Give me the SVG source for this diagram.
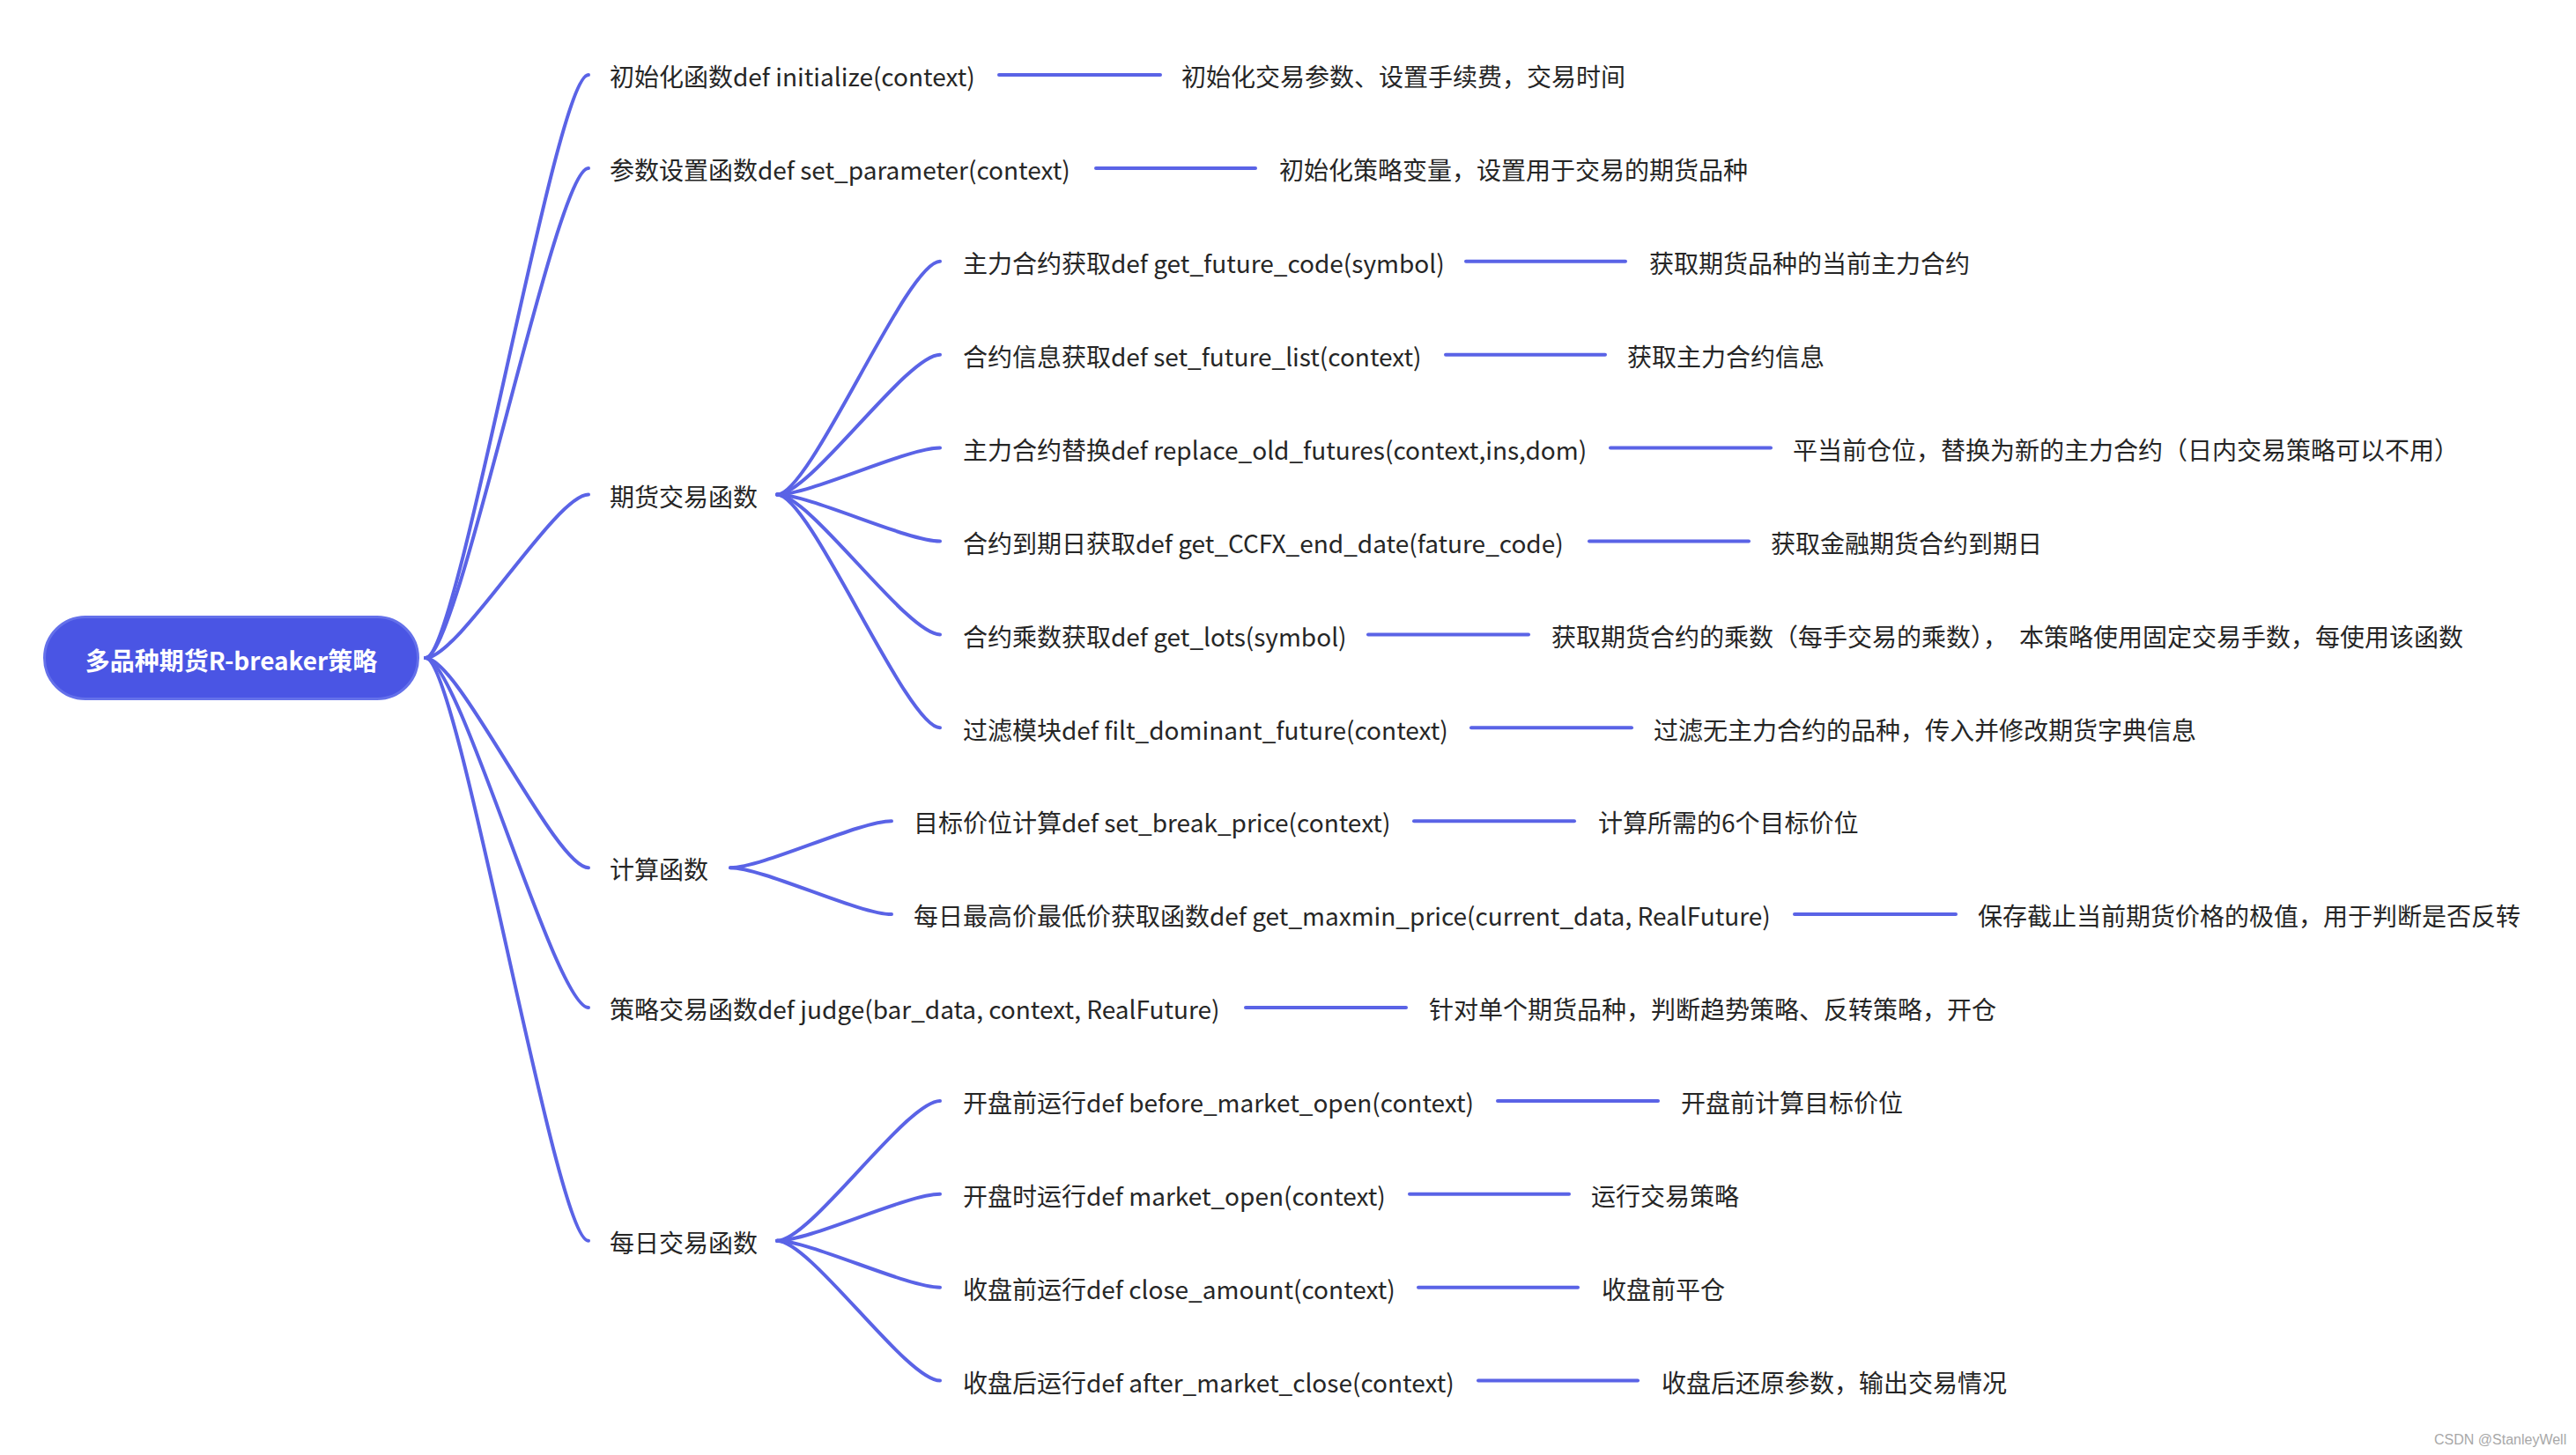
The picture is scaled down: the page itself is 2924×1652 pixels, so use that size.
<svg xmlns="http://www.w3.org/2000/svg" width="2924" height="1652" viewBox="0 0 2924 1652">
<style>
text{font-family:"Noto Sans CJK SC","Noto Sans",sans-serif;font-size:28px;fill:#262626;dominant-baseline:central}
.root text{fill:#ffffff;font-weight:bold;text-anchor:middle}
.conn path,.conn line{fill:none;stroke:#5a63e6;stroke-width:4;stroke-linecap:round}
.wm{font-family:"Liberation Sans",Arial,sans-serif;font-size:16px;fill:#a8a8a8;dominant-baseline:auto}
</style>
<rect width="2924" height="1652" fill="#ffffff"/>
<g class="conn" id="connectors">
<path d="M483,747 C521,747 630,85 668,85"/>
<path d="M483,747 C521,747 630,190.9 668,190.9"/>
<path d="M483,747 C521,747 630,561.6 668,561.6"/>
<path d="M483,747 C521,747 630,985.2 668,985.2"/>
<path d="M483,747 C521,747 630,1144 668,1144"/>
<path d="M483,747 C521,747 630,1408.8 668,1408.8"/>
<path d="M882,561.6 C920,561.6 1029,296.8 1067,296.8"/>
<path d="M882,561.6 C920,561.6 1029,402.7 1067,402.7"/>
<path d="M882,561.6 C920,561.6 1029,508.6 1067,508.6"/>
<path d="M882,561.6 C920,561.6 1029,614.5 1067,614.5"/>
<path d="M882,561.6 C920,561.6 1029,720.4 1067,720.4"/>
<path d="M882,561.6 C920,561.6 1029,826.3 1067,826.3"/>
<path d="M829,985.2 C866,985.2 975,932.2 1012,932.2"/>
<path d="M829,985.2 C866,985.2 975,1038.1 1012,1038.1"/>
<path d="M882,1408.8 C920,1408.8 1029,1249.9 1067,1249.9"/>
<path d="M882,1408.8 C920,1408.8 1029,1355.8 1067,1355.8"/>
<path d="M882,1408.8 C920,1408.8 1029,1461.7 1067,1461.7"/>
<path d="M882,1408.8 C920,1408.8 1029,1567.6 1067,1567.6"/>
<line x1="1134" y1="85" x2="1317" y2="85"/>
<line x1="1244" y1="190.9" x2="1425" y2="190.9"/>
<line x1="1664" y1="296.8" x2="1845" y2="296.8"/>
<line x1="1641" y1="402.7" x2="1822" y2="402.7"/>
<line x1="1828" y1="508.6" x2="2010" y2="508.6"/>
<line x1="1804" y1="614.5" x2="1985" y2="614.5"/>
<line x1="1553" y1="720.4" x2="1735" y2="720.4"/>
<line x1="1670" y1="826.3" x2="1852" y2="826.3"/>
<line x1="1605" y1="932.2" x2="1787" y2="932.2"/>
<line x1="2037" y1="1038.1" x2="2220" y2="1038.1"/>
<line x1="1414" y1="1144" x2="1596" y2="1144"/>
<line x1="1700" y1="1249.9" x2="1882" y2="1249.9"/>
<line x1="1600" y1="1355.8" x2="1781" y2="1355.8"/>
<line x1="1610" y1="1461.7" x2="1791" y2="1461.7"/>
<line x1="1678" y1="1567.6" x2="1859" y2="1567.6"/>
</g>
<g class="root" id="root">
<rect x="50.5" y="700.5" width="424" height="93" rx="46.5" fill="#4a55e4" stroke="#6470ea" stroke-width="3"/>
<text x="262.5" y="749">多品种期货R-breaker策略</text>
</g>
<g id="n-init"><text x="692" y="86">初始化函数def initialize(context)</text></g>
<g id="n-param"><text x="692" y="192">参数设置函数def set_parameter(context)</text></g>
<g id="n-futures"><text x="692" y="563">期货交易函数</text></g>
<g id="n-calc"><text x="692" y="986">计算函数</text></g>
<g id="n-judge"><text x="692" y="1145">策略交易函数def judge(bar_data, context, RealFuture)</text></g>
<g id="n-daily"><text x="692" y="1410">每日交易函数</text></g>
<g id="n-code"><text x="1093" y="298">主力合约获取def get_future_code(symbol)</text></g>
<g id="n-list"><text x="1093" y="404">合约信息获取def set_future_list(context)</text></g>
<g id="n-replace"><text x="1093" y="510">主力合约替换def replace_old_futures(context,ins,dom)</text></g>
<g id="n-enddate"><text x="1093" y="616">合约到期日获取def get_CCFX_end_date(fature_code)</text></g>
<g id="n-lots"><text x="1093" y="722">合约乘数获取def get_lots(symbol)</text></g>
<g id="n-filt"><text x="1093" y="828">过滤模块def filt_dominant_future(context)</text></g>
<g id="n-break"><text x="1037" y="933">目标价位计算def set_break_price(context)</text></g>
<g id="n-maxmin"><text x="1037" y="1039">每日最高价最低价获取函数def get_maxmin_price(current_data, RealFuture)</text></g>
<g id="n-before"><text x="1093" y="1251">开盘前运行def before_market_open(context)</text></g>
<g id="n-open"><text x="1093" y="1357">开盘时运行def market_open(context)</text></g>
<g id="n-close"><text x="1093" y="1463">收盘前运行def close_amount(context)</text></g>
<g id="n-after"><text x="1093" y="1569">收盘后运行def after_market_close(context)</text></g>
<g id="d-init"><text x="1341" y="86">初始化交易参数、设置手续费，交易时间</text></g>
<g id="d-param"><text x="1452" y="192">初始化策略变量，设置用于交易的期货品种</text></g>
<g id="d-code"><text x="1872" y="298">获取期货品种的当前主力合约</text></g>
<g id="d-list"><text x="1847" y="404">获取主力合约信息</text></g>
<g id="d-replace"><text x="2035" y="510">平当前仓位，替换为新的主力合约（日内交易策略可以不用）</text></g>
<g id="d-enddate"><text x="2010" y="616">获取金融期货合约到期日</text></g>
<g id="d-lots"><text x="1761" y="722">获取期货合约的乘数（每手交易的乘数），<tspan dx="13">本策略使用固定交易手数，每使用该函数</tspan></text></g>
<g id="d-filt"><text x="1877" y="828">过滤无主力合约的品种，传入并修改期货字典信息</text></g>
<g id="d-break"><text x="1814" y="933">计算所需的6个目标价位</text></g>
<g id="d-maxmin"><text x="2245" y="1039">保存截止当前期货价格的极值，用于判断是否反转</text></g>
<g id="d-judge"><text x="1622" y="1145">针对单个期货品种，判断趋势策略、反转策略，开仓</text></g>
<g id="d-before"><text x="1908" y="1251">开盘前计算目标价位</text></g>
<g id="d-open"><text x="1806" y="1357">运行交易策略</text></g>
<g id="d-close"><text x="1818" y="1463">收盘前平仓</text></g>
<g id="d-after"><text x="1886" y="1569">收盘后还原参数，输出交易情况</text></g>
<text class="wm" x="2763" y="1640">CSDN @StanleyWell</text>
</svg>
